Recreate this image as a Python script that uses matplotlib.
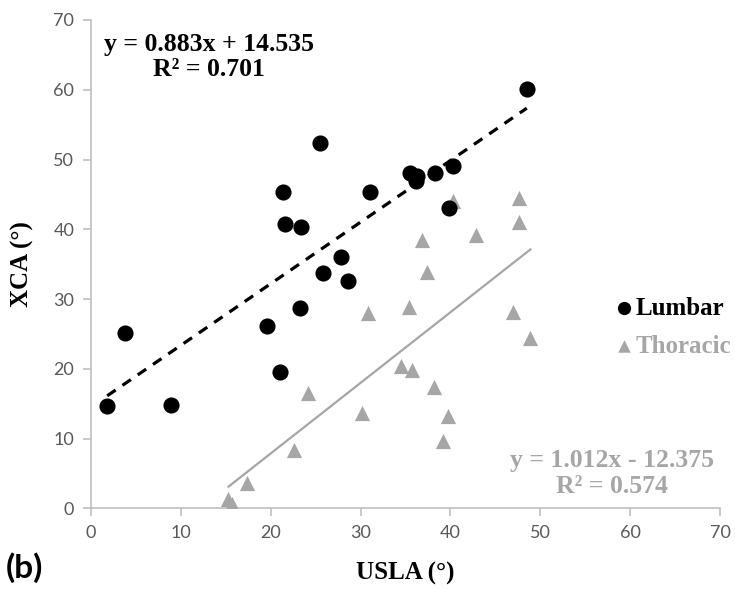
import numpy as np
import matplotlib
matplotlib.use('Agg')
from matplotlib import pyplot as plt
from matplotlib.font_manager import FontProperties, findfont

# data
lumbar_x = [1.8, 3.8, 8.9, 19.6, 21.0, 23.3, 28.6, 25.8, 27.8, 21.4, 21.6,
            23.4, 25.5, 31.1, 35.5, 36.3, 36.2, 38.3, 40.3, 39.8, 48.5]
lumbar_y = [14.7, 25.2, 14.8, 26.2, 19.6, 28.7, 32.6, 33.8, 36.0, 45.3, 40.8,
            40.3, 52.3, 45.4, 48.0, 47.7, 46.9, 48.1, 49.1, 43.0, 60.1]
thoracic_x = [15.3, 15.7, 17.4, 22.6, 24.2, 30.2, 30.8, 35.4, 47.0, 48.9, 34.5,
              35.7, 38.2, 39.7, 39.2, 40.3, 47.6, 47.6, 42.9, 36.8, 37.4]
thoracic_y = [1.4, 0.6, 3.7, 8.4, 16.5, 13.6, 28.0, 28.9, 28.1, 24.4, 20.4,
              19.8, 17.4, 13.2, 9.6, 44.0, 44.5, 41.1, 39.2, 38.4, 33.9]
lumbar_fit = (0.883, 14.535)
thoracic_fit = (1.012, -12.375)
ticks = [0, 10, 20, 30, 40, 50, 60, 70]

GRAY = '#a6a6a6'
serif = 'Liberation Serif'
sans = 'Lato'

fig = plt.figure(figsize=(7.35, 5.93), dpi=100)
ax = fig.add_axes([0.1238, 0.1428, 0.8558, 0.8235])

# trend lines over each series' x range
lx = np.array([min(lumbar_x), max(lumbar_x)])
ax.plot(lx, lumbar_fit[0]*lx + lumbar_fit[1], color='black', lw=2.3,
        linestyle=(0, (3.2, 2.6)), zorder=2)
tx = np.array([min(thoracic_x), max(thoracic_x)])
ax.plot(tx, thoracic_fit[0]*tx + thoracic_fit[1], color=GRAY, lw=1.6, zorder=2)

ax.scatter(thoracic_x, thoracic_y, marker='^', s=120, color=GRAY,
           linewidths=0, label='Thoracic', zorder=3)
ax.scatter(lumbar_x, lumbar_y, marker='o', s=135, color='black',
           linewidths=0, label='Lumbar', zorder=4)

ax.set_xlim(0, 70)
ax.set_ylim(0, 70)
ax.set_xticks(ticks)
ax.set_yticks(ticks)
for s in ['top', 'right']:
    ax.spines[s].set_visible(False)
for s in ['left', 'bottom']:
    ax.spines[s].set_color('#bfbfbf')
    ax.spines[s].set_linewidth(1.2)
ax.tick_params(direction='out', length=6, width=1.2, color='#bfbfbf',
               labelcolor='#595959', labelsize=13, pad=6)
for lab in ax.get_xticklabels() + ax.get_yticklabels():
    lab.set_family(sans)

ax.set_xlabel('USLA (°)', family=serif, fontweight='bold', fontsize=18,
              labelpad=15)
ax.set_ylabel('XCA (°)', family=serif, fontweight='bold', fontsize=18,
              labelpad=14)

# fit equations
fig.text(0.284, 0.904, 'y = 0.883x + 14.535\nR² = 0.701',
         ha='center', va='center', family=serif, fontweight='bold', fontsize=18.5,
         linespacing=1.15, color='black')
fig.text(0.832, 0.202, 'y = 1.012x - 12.375\nR² = 0.574',
         ha='center', va='center', family=serif, fontweight='bold', fontsize=18.5,
         linespacing=1.15, color=GRAY)

# legend font taken straight from the font file
serif_bold = findfont(FontProperties(family=serif, weight='bold'))
leg_font = FontProperties(fname=serif_bold, size=18)
h, l = ax.get_legend_handles_labels()
leg = fig.legend(h[::-1], l[::-1], loc='center left', bbox_to_anchor=(0.833, 0.4477),
                 frameon=False, markerscale=0.82, handletextpad=0.05,
                 handlelength=0.9, labelspacing=0.6, borderpad=0, borderaxespad=0,
                 prop=leg_font)
leg.get_texts()[1].set_color(GRAY)

fig.text(0.008, 0.042, '(b)', family=sans, fontweight='bold', fontsize=24,
         ha='left', va='center')

fig.savefig('out.png', dpi=100)
